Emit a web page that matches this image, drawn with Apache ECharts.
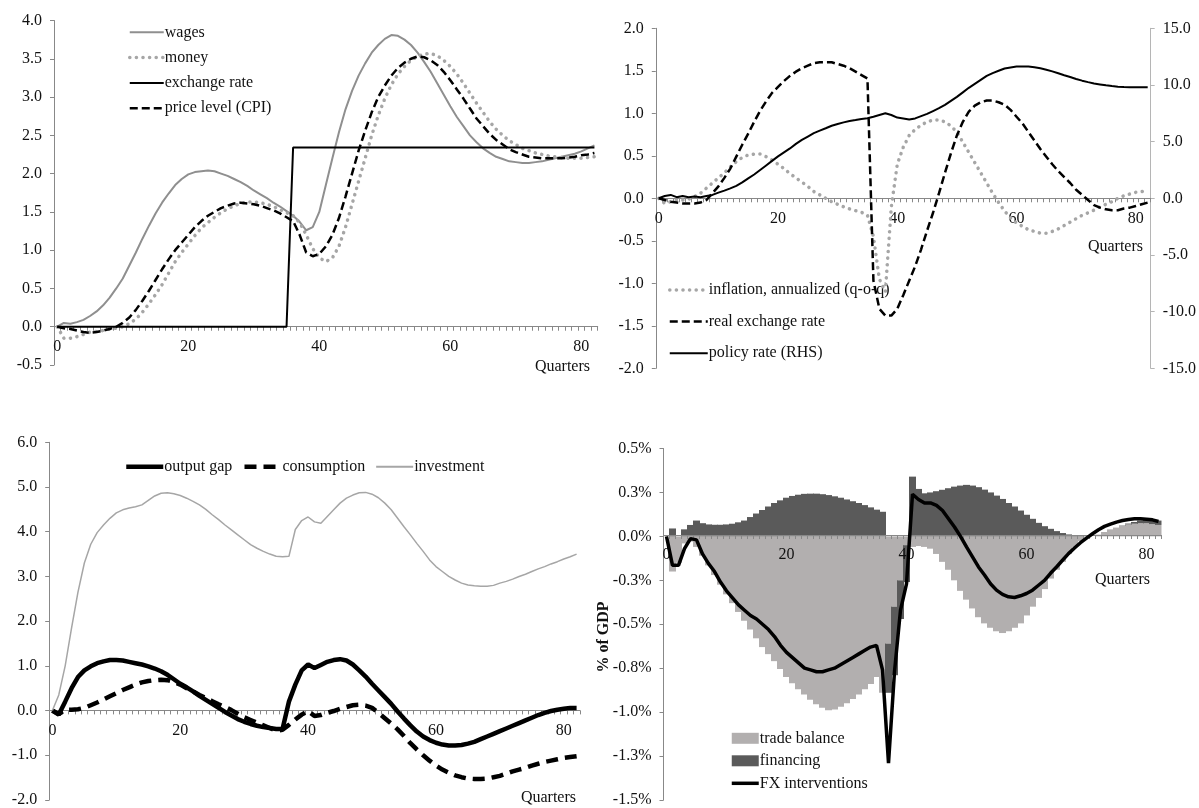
<!DOCTYPE html>
<html>
<head>
<meta charset="utf-8">
<script src="https://cdn.jsdelivr.net/npm/echarts/dist/echarts.min.js"></script>
<style>
  html, body { margin: 0; padding: 0; background: #fff; }
  #chart { width: 1199px; height: 808px; }
</style>
</head>
<body>
<div id="chart"></div>
<script>
// quarters 0..82 on every panel
const quarters = [];
for (let i = 0; i <= 82; i++) quarters.push(String(i));

// top left: wages, money, exchange rate, CPI
const tlWages = [0,0.05,0.04,0.06,0.09,0.14,0.2,0.28,0.38,0.5,
  0.63,0.8,0.97,1.15,1.32,1.48,1.62,1.74,1.85,1.93,
  1.99,2.02,2.03,2.04,2.03,2.0,1.97,1.93,1.89,1.84,
  1.78,1.73,1.68,1.62,1.57,1.51,1.45,1.37,1.26,1.3,
  1.5,1.85,2.2,2.54,2.84,3.08,3.28,3.44,3.58,3.68,
  3.76,3.81,3.8,3.75,3.68,3.58,3.46,3.33,3.18,3.03,
  2.88,2.74,2.62,2.5,2.41,2.33,2.27,2.22,2.19,2.16,
  2.15,2.14,2.14,2.15,2.16,2.18,2.2,2.22,2.24,2.26,
  2.29,2.33,2.37];
const tlMoney = [0,-0.15,-0.15,-0.13,-0.1,-0.07,-0.06,-0.05,-0.03,-0.02,
  0,0.04,0.1,0.19,0.3,0.42,0.55,0.7,0.85,0.97,
  1.08,1.19,1.29,1.36,1.43,1.49,1.54,1.58,1.61,1.63,
  1.63,1.62,1.6,1.57,1.53,1.49,1.45,1.36,1.2,1.02,
  0.9,0.85,0.9,1.05,1.3,1.6,1.9,2.2,2.5,2.76,
  2.98,3.16,3.3,3.4,3.48,3.53,3.56,3.57,3.54,3.48,
  3.4,3.3,3.18,3.05,2.92,2.8,2.68,2.58,2.5,2.43,
  2.38,2.33,2.3,2.27,2.25,2.23,2.22,2.21,2.2,2.2,
  2.2,2.21,2.22];
const tlExch = [0,0,0,0,0,0,0,0,0,0,
  0,0,0,0,0,0,0,0,0,0,
  0,0,0,0,0,0,0,0,0,0,
  0,0,0,0,0,0,2.34,2.34,2.34,2.34,
  2.34,2.34,2.34,2.34,2.34,2.34,2.34,2.34,2.34,2.34,
  2.34,2.34,2.34,2.34,2.34,2.34,2.34,2.34,2.34,2.34,
  2.34,2.34,2.34,2.34,2.34,2.34,2.34,2.34,2.34,2.34,
  2.34,2.34,2.34,2.34,2.34,2.34,2.34,2.34,2.34,2.34,
  2.34,2.34,2.34];
const tlCpi = [0,-0.02,-0.03,-0.05,-0.07,-0.08,-0.07,-0.05,-0.03,0,
  0.05,0.12,0.22,0.34,0.47,0.61,0.75,0.88,1.0,1.1,
  1.2,1.3,1.38,1.45,1.5,1.55,1.58,1.61,1.62,1.61,
  1.6,1.58,1.55,1.52,1.48,1.43,1.38,1.2,0.97,0.92,
  0.95,1.05,1.2,1.42,1.7,2.0,2.3,2.56,2.8,3.0,
  3.15,3.28,3.38,3.45,3.5,3.53,3.52,3.48,3.42,3.33,
  3.22,3.1,2.98,2.85,2.72,2.62,2.52,2.44,2.38,2.32,
  2.28,2.25,2.22,2.21,2.2,2.2,2.2,2.2,2.21,2.22,
  2.24,2.25,2.27];

// top right: inflation, real exchange rate, policy rate (RHS)
const trInfl = [0,-0.06,-0.04,-0.02,-0.02,-0.01,0.02,0.06,0.12,0.18,
  0.24,0.3,0.37,0.43,0.48,0.51,0.52,0.52,0.49,0.45,
  0.4,0.35,0.29,0.24,0.19,0.14,0.08,0.04,0,-0.04,
  -0.07,-0.1,-0.125,-0.145,-0.165,-0.2,-0.45,-0.95,-1.1,-0.1,
  0.4,0.6,0.74,0.81,0.86,0.9,0.92,0.92,0.9,0.85,
  0.78,0.66,0.54,0.42,0.3,0.18,0.06,-0.05,-0.15,-0.23,
  -0.29,-0.33,-0.37,-0.39,-0.41,-0.41,-0.39,-0.36,-0.32,-0.28,
  -0.24,-0.2,-0.17,-0.14,-0.1,-0.07,-0.04,0,0.03,0.05,
  0.07,0.08,0.09];
const trRer = [0,-0.02,-0.04,-0.05,-0.06,-0.06,-0.06,-0.05,-0.02,0.06,
  0.14,0.24,0.35,0.49,0.63,0.76,0.9,1.03,1.14,1.24,
  1.31,1.38,1.44,1.49,1.53,1.56,1.59,1.6,1.6,1.6,
  1.58,1.56,1.53,1.49,1.45,1.41,-0.97,-1.3,-1.38,-1.38,
  -1.3,-1.14,-0.97,-0.8,-0.6,-0.38,-0.17,0.06,0.3,0.53,
  0.74,0.9,1.02,1.09,1.13,1.15,1.15,1.13,1.1,1.04,
  0.96,0.88,0.78,0.68,0.58,0.49,0.4,0.32,0.25,0.18,
  0.1,0.04,-0.02,-0.08,-0.11,-0.13,-0.14,-0.14,-0.12,-0.11,
  -0.09,-0.07,-0.05];
const trPolicy = [0,0.2,0.3,0.1,0.2,0.1,0.15,0.1,0.2,0.3,
  0.5,0.68,0.88,1.1,1.4,1.76,2.1,2.5,2.9,3.3,
  3.7,4.05,4.4,4.8,5.15,5.45,5.75,5.97,6.18,6.4,
  6.56,6.7,6.82,6.9,7.0,7.06,7.2,7.35,7.5,7.35,
  7.12,7.05,6.95,7.05,7.25,7.45,7.7,7.95,8.25,8.6,
  8.95,9.35,9.75,10.1,10.45,10.8,11.05,11.25,11.45,11.55,
  11.62,11.64,11.62,11.56,11.47,11.35,11.2,11.03,10.86,10.7,
  10.53,10.38,10.25,10.13,10.05,9.97,9.9,9.85,9.82,9.8,
  9.8,9.8,9.8];

// bottom left: output gap, consumption, investment
const blGap = [0,-0.09,0.2,0.5,0.75,0.9,0.99,1.06,1.1,1.13,
  1.13,1.12,1.09,1.06,1.03,0.99,0.94,0.88,0.8,0.7,
  0.6,0.52,0.43,0.33,0.24,0.15,0.06,-0.03,-0.11,-0.19,
  -0.25,-0.3,-0.34,-0.37,-0.39,-0.41,-0.41,0.2,0.58,0.9,
  1.03,0.95,1.02,1.09,1.13,1.15,1.12,1.03,0.9,0.76,
  0.6,0.45,0.3,0.15,-0.02,-0.18,-0.33,-0.47,-0.58,-0.66,
  -0.72,-0.76,-0.78,-0.78,-0.77,-0.74,-0.7,-0.64,-0.58,-0.52,
  -0.46,-0.4,-0.34,-0.28,-0.22,-0.16,-0.1,-0.05,-0.01,0.02,
  0.04,0.06,0.06];
const blCons = [0,-0.08,0.02,0.02,0.03,0.06,0.12,0.18,0.25,0.32,
  0.39,0.46,0.52,0.58,0.63,0.66,0.68,0.69,0.68,0.64,
  0.58,0.5,0.43,0.35,0.28,0.21,0.14,0.08,0.01,-0.07,
  -0.15,-0.21,-0.27,-0.33,-0.39,-0.45,-0.43,-0.32,-0.2,-0.09,
  -0.01,-0.12,-0.1,-0.05,-0.01,0.04,0.08,0.12,0.13,0.11,
  0.06,-0.05,-0.17,-0.29,-0.42,-0.57,-0.73,-0.87,-1.0,-1.12,
  -1.23,-1.32,-1.39,-1.45,-1.49,-1.52,-1.53,-1.53,-1.52,-1.49,
  -1.46,-1.41,-1.36,-1.32,-1.28,-1.23,-1.19,-1.15,-1.12,-1.09,
  -1.06,-1.04,-1.02];
const blInv = [0,0.35,1.0,1.85,2.65,3.3,3.72,3.98,4.15,4.3,
  4.42,4.49,4.53,4.56,4.6,4.7,4.8,4.86,4.87,4.85,
  4.81,4.75,4.68,4.6,4.5,4.38,4.27,4.15,4.04,3.93,
  3.82,3.71,3.63,3.56,3.5,3.45,3.44,3.45,4.05,4.25,
  4.33,4.22,4.19,4.34,4.49,4.64,4.75,4.82,4.87,4.88,
  4.84,4.76,4.64,4.49,4.3,4.11,3.93,3.74,3.56,3.37,
  3.22,3.11,3.0,2.92,2.85,2.81,2.79,2.78,2.78,2.8,
  2.85,2.89,2.94,3.0,3.05,3.11,3.17,3.22,3.28,3.33,
  3.39,3.44,3.5];

// bottom right: trade balance, financing (bars), FX interventions (line), % of GDP
const brTrade = [0,-0.2,-0.15,-0.04,-0.03,-0.06,-0.11,-0.165,-0.22,-0.275,
  -0.33,-0.38,-0.43,-0.48,-0.53,-0.58,-0.63,-0.67,-0.71,-0.755,
  -0.8,-0.835,-0.87,-0.9,-0.93,-0.955,-0.975,-0.99,-0.985,-0.97,
  -0.95,-0.925,-0.9,-0.87,-0.84,-0.8,-0.89,-0.61,-0.4,-0.25,
  -0.05,-0.06,-0.055,-0.06,-0.07,-0.1,-0.145,-0.19,-0.25,-0.31,
  -0.36,-0.41,-0.46,-0.495,-0.52,-0.54,-0.55,-0.54,-0.52,-0.495,
  -0.45,-0.4,-0.35,-0.3,-0.24,-0.19,-0.145,-0.1,-0.06,-0.028,
  -0.006,0,0.01,0.025,0.04,0.05,0.06,0.068,0.072,0.075,
  0.075,0.07,0.065];
const brFin = [0,0.045,0,0.04,0.065,0.09,0.075,0.068,0.066,0.066,
  0.068,0.072,0.08,0.09,0.11,0.13,0.15,0.17,0.19,0.205,
  0.22,0.23,0.237,0.242,0.243,0.243,0.24,0.235,0.228,0.22,
  0.21,0.2,0.19,0.178,0.165,0.152,0.14,-0.28,-0.39,-0.22,
  -0.21,0.34,0.27,0.245,0.25,0.257,0.265,0.274,0.283,0.289,
  0.293,0.289,0.28,0.266,0.25,0.232,0.213,0.19,0.17,0.147,
  0.123,0.1,0.077,0.058,0.043,0.03,0.019,0.011,0.006,0.002,
  0,0,0,0,0,0,0.002,0.005,0.01,0.015,
  0.02,0.025,0.025];
const brFx = [0,-0.165,-0.165,-0.07,-0.013,-0.02,-0.1,-0.155,-0.2,-0.26,
  -0.31,-0.35,-0.39,-0.42,-0.45,-0.47,-0.5,-0.53,-0.57,-0.62,
  -0.66,-0.69,-0.72,-0.75,-0.76,-0.77,-0.77,-0.76,-0.75,-0.73,
  -0.71,-0.69,-0.67,-0.65,-0.63,-0.62,-0.76,-1.29,-0.77,-0.42,
  -0.27,0.24,0.21,0.19,0.19,0.176,0.147,0.1,0.053,0,
  -0.06,-0.117,-0.174,-0.22,-0.27,-0.306,-0.33,-0.344,-0.348,-0.338,
  -0.325,-0.306,-0.278,-0.25,-0.21,-0.174,-0.136,-0.098,-0.066,-0.036,
  -0.01,0.015,0.038,0.057,0.07,0.081,0.09,0.096,0.1,0.1,
  0.098,0.094,0.085];

// tick labels
const tlTicks = ['-0.5','0.0','0.5','1.0','1.5','2.0','2.5','3.0','3.5','4.0'];
const trTicksL = ['-2.0','-1.5','-1.0','-0.5','0.0','0.5','1.0','1.5','2.0'];
const trTicksR = ['-15.0','-10.0','-5.0','0.0','5.0','10.0','15.0'];
const blTicks = ['-2.0','-1.0','0.0','1.0','2.0','3.0','4.0','5.0','6.0'];
const brTicks = ['-1.5%','-1.3%','-1.0%','-0.8%','-0.5%','-0.3%','0.0%','0.3%','0.5%'];

const font = 'Liberation Serif';
const axisGray = '#888888';
const txt = '#111111';

const grids = [
  { left: 54, top: 20.5, width: 543.7, height: 344.5 },
  { left: 655.8, top: 28.3, width: 496, height: 340 },
  { left: 49.2, top: 442.3, width: 530.6, height: 358.4 },
  { left: 663.5, top: 448.5, width: 498, height: 353.3 }
];

// category axis that sits on the zero line of the value axis (min, max)
function catAxis(gridIndex, min, max) {
  const h = grids[gridIndex].height;
  return {
    type: 'category', gridIndex: gridIndex, data: quarters, boundaryGap: true,
    offset: -h * (0 - min) / (max - min),
    axisLine: { onZero: false, lineStyle: { color: axisGray, width: 1 } },
    axisTick: { show: true, interval: 0, length: 4, lineStyle: { color: axisGray } },
    axisLabel: { interval: 19, margin: 12, fontFamily: font, fontSize: 16, color: txt },
    splitLine: { show: false },
    z: 5
  };
}

function valAxis(gridIndex, min, max, interval, ticks, extra) {
  return Object.assign({
    type: 'value', gridIndex: gridIndex, min: min, max: max, interval: interval,
    axisLine: { show: true, lineStyle: { color: axisGray } },
    axisTick: { show: true, length: 4, lineStyle: { color: axisGray } },
    splitLine: { show: false },
    axisLabel: {
      margin: 12, fontFamily: font, fontSize: 16, color: txt,
      formatter: function (v) { return ticks[Math.round((v - min) / interval)]; }
    }
  }, extra || {});
}

function line(name, xi, yi, data, color, width, type, cap) {
  return {
    name: name, type: 'line', xAxisIndex: xi, yAxisIndex: yi, data: data,
    symbol: 'none', smooth: false, z: 6,
    lineStyle: { color: color, width: width, type: type || 'solid', cap: cap || 'butt' },
    // transparent so the legend shows only the line
    itemStyle: { color: 'rgba(0,0,0,0)', borderWidth: 0 }
  };
}

function bar(name, data, color) {
  return {
    name: name, type: 'bar', xAxisIndex: 3, yAxisIndex: 4, data: data,
    stack: 'br', barWidth: 7, z: 2,
    itemStyle: { color: color, borderWidth: 0 }
  };
}

const legendText = { fontFamily: font, fontSize: 16, color: txt, lineHeight: 16, padding: [0, 0, 0, -4] };
const dotIcon = { color: '#a6a6a6', width: 3.5, type: [0.1, 6.5], cap: 'round' };

const chart = echarts.init(document.getElementById('chart'));
const option = {
  animation: false,
  backgroundColor: '#ffffff',
  grid: grids,
  xAxis: [catAxis(0, -0.5, 4), catAxis(1, -2, 2), catAxis(2, -2, 6), catAxis(3, -1.5, 0.5)],
  yAxis: [
    valAxis(0, -0.5, 4, 0.5, tlTicks),
    valAxis(1, -2, 2, 0.5, trTicksL),
    valAxis(1, -15, 15, 5, trTicksR, {
      position: 'right',
      axisLine: { show: true, lineStyle: { color: '#b5b5b5' } },
      axisTick: { show: true, length: 4, lineStyle: { color: '#b5b5b5' } }
    }),
    valAxis(2, -2, 6, 1, blTicks),
    valAxis(3, -1.5, 0.5, 0.25, brTicks)
  ],
  legend: [
    {
      data: ['wages', { name: 'money', lineStyle: dotIcon }, 'exchange rate',
        { name: 'price level (CPI)', lineStyle: { width: 2.5, type: [8, 4] } }],
      orient: 'vertical', left: 128, top: 24.3, padding: 0,
      itemWidth: 34, itemHeight: 12, itemGap: 9.3, textStyle: legendText
    },
    {
      data: [{ name: 'inflation, annualized (q-o-q)', lineStyle: dotIcon },
        { name: 'real exchange rate', lineStyle: { width: 2.5, type: [8, 4] } },
        'policy rate (RHS)'],
      orient: 'vertical', left: 668, top: 282, padding: 0,
      itemWidth: 38, itemHeight: 12, itemGap: 15.6, textStyle: legendText
    },
    {
      data: [
        { name: 'output gap', lineStyle: { width: 4.5 } },
        { name: 'consumption', lineStyle: { width: 4.5, type: [12, 7] } },
        'investment'
      ],
      orient: 'horizontal', left: 124, top: 458.7, padding: 0,
      itemWidth: 37, itemHeight: 12, itemGap: 10, textStyle: legendText
    },
    {
      data: [
        { name: 'trade balance', icon: 'rect' },
        { name: 'financing', icon: 'rect' },
        { name: 'FX interventions', lineStyle: { width: 3.5 } }
      ],
      orient: 'vertical', left: 730, top: 730.3, padding: 0,
      itemWidth: 27, itemHeight: 11, itemGap: 6.5, textStyle: legendText
    }
  ],
  graphic: [
    { type: 'text', x: 590, y: 367, style: { text: 'Quarters', font: '16px "Liberation Serif"', fill: txt, align: 'right', verticalAlign: 'middle' } },
    { type: 'text', x: 1143, y: 247, style: { text: 'Quarters', font: '16px "Liberation Serif"', fill: txt, align: 'right', verticalAlign: 'middle' } },
    { type: 'text', x: 576, y: 798, style: { text: 'Quarters', font: '16px "Liberation Serif"', fill: txt, align: 'right', verticalAlign: 'middle' } },
    { type: 'text', x: 1150, y: 580, style: { text: 'Quarters', font: '16px "Liberation Serif"', fill: txt, align: 'right', verticalAlign: 'middle' } },
    { type: 'text', x: 604, y: 637, rotation: Math.PI / 2, style: { text: '% of GDP', font: 'bold 16px "Liberation Serif"', fill: txt, align: 'center', verticalAlign: 'middle' } }
  ],
  series: [
    line('wages', 0, 0, tlWages, '#8f8f8f', 2),
    line('money', 0, 0, tlMoney, '#a6a6a6', 3.5, [0.1, 6.5], 'round'),
    line('exchange rate', 0, 0, tlExch, '#000000', 2),
    line('price level (CPI)', 0, 0, tlCpi, '#000000', 2.5, [8, 4]),

    line('inflation, annualized (q-o-q)', 1, 1, trInfl, '#a6a6a6', 3.5, [0.1, 6.5], 'round'),
    line('real exchange rate', 1, 1, trRer, '#000000', 2.5, [8, 4]),
    line('policy rate (RHS)', 1, 2, trPolicy, '#000000', 2),

    line('output gap', 2, 3, blGap, '#000000', 4.5),
    line('consumption', 2, 3, blCons, '#000000', 4.5, [12, 7]),
    line('investment', 2, 3, blInv, '#a6a6a6', 1.5),

    bar('trade balance', brTrade, '#b2afaf'),
    bar('financing', brFin, '#5a5a5a'),
    line('FX interventions', 3, 4, brFx, '#000000', 3.5)
  ]
};
chart.setOption(option);
</script>
</body>
</html>
